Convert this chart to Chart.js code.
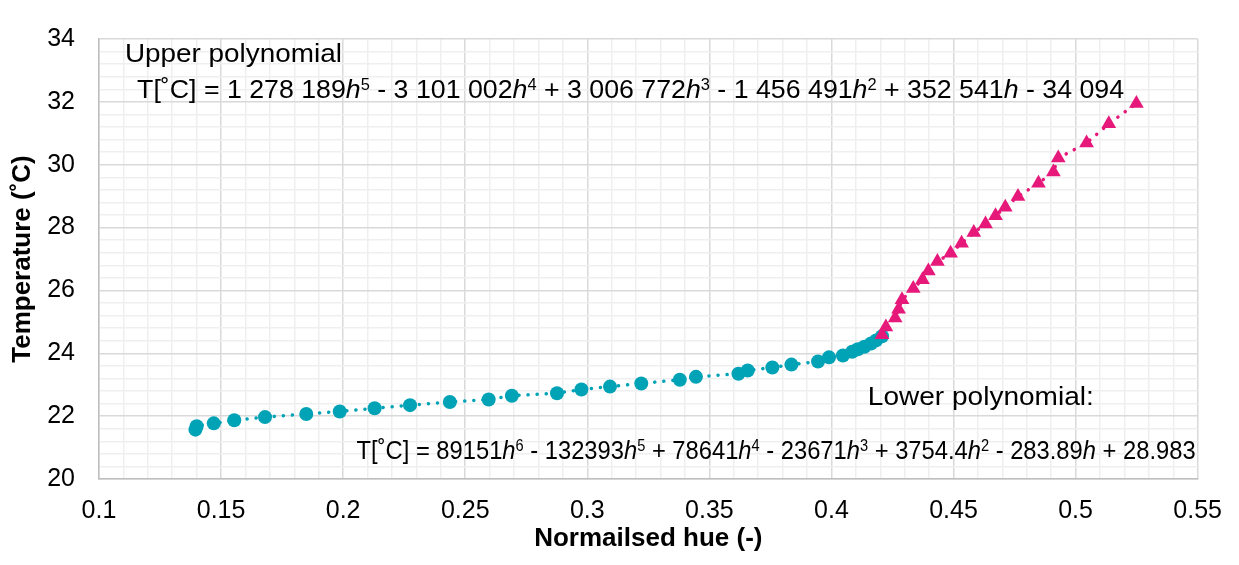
<!DOCTYPE html>
<html lang="en">
<head>
    <meta charset="UTF-8">
    <title>Temperature vs normalised hue</title>
    <script src="https://cdn.jsdelivr.net/npm/chart.js"></script>
    <style>
        * { margin: 0; padding: 0; box-sizing: border-box; }
        body { background: #fff; }
        .chart-container { position: relative; width: 1239px; height: 565px; }
    </style>
</head>
<body>
    <div class="chart-container">
        <canvas id="hueChart"></canvas>
    </div>

    <script>
        // lower branch (teal circles)
        const lowerHue = [0.1395, 0.1400, 0.1470, 0.1554, 0.1680, 0.1849, 0.1986, 0.2129, 0.2274, 0.2437,
                          0.2596, 0.2691, 0.2876, 0.2976, 0.3093, 0.3221, 0.3379, 0.3445, 0.3619, 0.3657,
                          0.3758, 0.3836, 0.3945, 0.3990, 0.4047, 0.4085, 0.4108, 0.4135, 0.4162, 0.4183, 0.4207];
        const lowerTemp = [21.57, 21.68, 21.77, 21.87, 21.97, 22.07, 22.15, 22.25, 22.35, 22.45,
                           22.53, 22.65, 22.73, 22.85, 22.94, 23.04, 23.16, 23.25, 23.35, 23.45,
                           23.55, 23.64, 23.74, 23.87, 23.93, 24.05, 24.13, 24.21, 24.31, 24.41, 24.54];

        // upper branch (pink triangles)
        const upperHue = [0.4207, 0.4223, 0.4261, 0.4275, 0.4289, 0.4335, 0.4373, 0.4397, 0.4434, 0.4488,
                          0.4533, 0.4583, 0.4631, 0.4672, 0.4712, 0.4764, 0.4848, 0.4909, 0.4929, 0.5045,
                          0.5136, 0.5249];
        const upperTemp = [24.59, 24.84, 25.12, 25.40, 25.70, 26.06, 26.34, 26.62, 26.92, 27.18,
                           27.50, 27.84, 28.11, 28.38, 28.65, 28.99, 29.41, 29.77, 30.21, 30.69,
                           31.30, 31.95];

        const xTickLabels = ['0.1', '0.15', '0.2', '0.25', '0.3', '0.35', '0.4', '0.45', '0.5', '0.55'];
        const yTickLabels = ['20', '22', '24', '26', '28', '30', '32', '34'];

        const xAxisTitle = 'Normailsed hue (-)';
        const yAxisTitle = 'Temperature (˚C)';

        // '_' = italic, '^' = superscript
        const upperLabel = ['Upper polynomial'];
        const upperEquation = ['T[˚C] = 1 278 189', '_h', '^5', ' - 3 101 002', '_h', '^4',
                               ' + 3 006 772', '_h', '^3', ' - 1 456 491', '_h', '^2',
                               ' + 352 541', '_h', ' - 34 094'];
        const lowerLabel = ['Lower polynomial:'];
        const lowerEquation = ['T[˚C] = 89151', '_h', '^6', ' - 132393', '_h', '^5', ' + 78641', '_h', '^4',
                               ' - 23671', '_h', '^3', ' + 3754.4', '_h', '^2', ' - 283.89', '_h', ' + 28.983'];

        const FONT = "'Liberation Sans', Arial, sans-serif";
        const TEAL = '#00A2B6';
        const PINK = '#E6197B';

        const X_MIN = 0.1, X_MAX = 0.55, X_STEP = 0.01;
        const Y_MIN = 20, Y_MAX = 34, Y_STEP = 0.4;

        function majorIndex(v, min, step) {
            const k = Math.round((v - min) / step);
            return k % 5 === 0 ? k / 5 : -1;
        }

        function gridColor(min, step) {
            return (c) => (c.tick && majorIndex(c.tick.value, min, step) >= 0) ? '#d9d9d9' : '#efefef';
        }

        // text boxes, anchored at data coordinates (left x, baseline y)
        const notes = [
            { segs: upperLabel, x: 0.1106, y: 33.27, width: 217 },
            { segs: upperEquation, x: 0.1156, y: 32.11, width: 987 },
            { segs: lowerLabel, x: 0.4149, y: 22.35, width: 226 },
            { segs: lowerEquation, x: 0.2055, y: 20.625, width: 839 }
        ];

        function segFont(s, size) {
            if (s[0] === '_') return 'italic ' + size + 'px ' + FONT;
            if (s[0] === '^') return Math.round(size * 0.6) + 'px ' + FONT;
            return size + 'px ' + FONT;
        }

        const notesPlugin = {
            id: 'notes',
            afterDraw(chart) {
                const ctx = chart.ctx;
                const xs = chart.scales.x, ys = chart.scales.y;
                const size = 26;
                notes.forEach(n => {
                    let total = 0;
                    const parts = n.segs.map(s => {
                        const txt = (s[0] === '_' || s[0] === '^') ? s.slice(1) : s;
                        ctx.font = segFont(s, size);
                        const w = ctx.measureText(txt).width;
                        total += w;
                        return { txt, font: ctx.font, w, sup: s[0] === '^' };
                    });
                    const k = n.width / total;
                    ctx.save();
                    ctx.translate(xs.getPixelForValue(n.x), ys.getPixelForValue(n.y));
                    ctx.scale(k, 1);
                    ctx.fillStyle = '#000';
                    ctx.textBaseline = 'alphabetic';
                    let cx = 0;
                    parts.forEach(p => {
                        ctx.font = p.font;
                        ctx.fillText(p.txt, cx, p.sup ? -8 : 0);
                        cx += p.w;
                    });
                    ctx.restore();
                });
            }
        };

        const ctx = document.getElementById('hueChart').getContext('2d');

        new Chart(ctx, {
            type: 'scatter',
            data: {
                datasets: [
                    {
                        label: 'Lower',
                        data: lowerHue.map((h, i) => ({ x: h, y: lowerTemp[i] })),
                        showLine: true,
                        borderColor: TEAL,
                        backgroundColor: TEAL,
                        borderWidth: 3.5,
                        borderDash: [0.1, 9],
                        borderCapStyle: 'round',
                        pointStyle: 'circle',
                        pointRadius: 7,
                        pointBorderWidth: 0,
                        order: 1
                    },
                    {
                        label: 'Upper',
                        data: upperHue.map((h, i) => ({ x: h, y: upperTemp[i] })),
                        showLine: true,
                        borderColor: PINK,
                        backgroundColor: PINK,
                        borderWidth: 3.5,
                        borderDash: [0.1, 9],
                        borderCapStyle: 'round',
                        pointStyle: 'triangle',
                        pointRadius: 8.5,
                        pointBorderWidth: 0,
                        order: 0
                    }
                ]
            },
            options: {
                responsive: true,
                maintainAspectRatio: false,
                animation: false,
                events: [],
                layout: { padding: { top: 20, right: 36, left: 0, bottom: 0 } },
                plugins: {
                    legend: { display: false },
                    tooltip: { enabled: false }
                },
                scales: {
                    x: {
                        type: 'linear',
                        min: X_MIN,
                        max: X_MAX,
                        afterFit: s => { s.height = 86; },
                        ticks: {
                            stepSize: X_STEP,
                            autoSkip: false,
                            maxRotation: 0,
                            padding: 17,
                            color: '#000',
                            font: { family: FONT, size: 25 },
                            callback: v => {
                                const k = majorIndex(v, X_MIN, X_STEP);
                                return k >= 0 ? xTickLabels[k] : '';
                            }
                        },
                        grid: { drawTicks: false, color: gridColor(X_MIN, X_STEP), lineWidth: 1.5 },
                        border: { color: '#bfbfbf', width: 1.5 },
                        title: {
                            display: true,
                            text: xAxisTitle,
                            color: '#000',
                            font: { family: FONT, size: 26, weight: 'bold' },
                            padding: { top: 0, bottom: 11 }
                        }
                    },
                    y: {
                        type: 'linear',
                        min: Y_MIN,
                        max: Y_MAX,
                        afterFit: s => { s.width = 99; },
                        ticks: {
                            stepSize: Y_STEP,
                            autoSkip: false,
                            padding: 24,
                            color: '#000',
                            font: { family: FONT, size: 25 },
                            callback: v => {
                                const k = majorIndex(v, Y_MIN, Y_STEP);
                                return k >= 0 ? yTickLabels[k] : '';
                            }
                        },
                        grid: { drawTicks: false, color: gridColor(Y_MIN, Y_STEP), lineWidth: 1.5 },
                        border: { color: '#bfbfbf', width: 1.5 },
                        title: {
                            display: true,
                            text: yAxisTitle,
                            color: '#000',
                            font: { family: FONT, size: 26, weight: 'bold' },
                            padding: { top: 7, bottom: 0 }
                        }
                    }
                }
            },
            plugins: [notesPlugin]
        });
    </script>
</body>
</html>
